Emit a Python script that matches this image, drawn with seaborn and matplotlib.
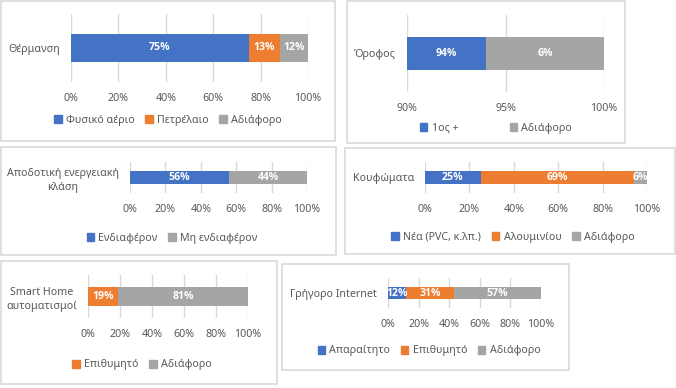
import matplotlib
matplotlib.use("Agg")
import matplotlib.pyplot as plt
from matplotlib.patches import Patch, Rectangle
import numpy as np
import seaborn as sns

# --- data -------------------------------------------------------------
heating_cat = "Θέρμανση"
heating_labels = ["Φυσικό αέριο", "Πετρέλαιο", "Αδιάφορο"]
heating_vals = [75, 13, 12]

floor_cat = "Όροφος"
floor_labels = ["1ος +", "Αδιάφορο"]
floor_vals = [94, 6]

energy_cat = "Αποδοτική ενεργειακή\nκλάση"
energy_labels = ["Ενδιαφέρον", "Μη ενδιαφέρον"]
energy_vals = [56, 44]

frames_cat = "Κουφώματα"
frames_labels = ["Νέα (PVC, κ.λπ.)", "Αλουμινίου", "Αδιάφορο"]
frames_vals = [25, 69, 6]

smart_cat = "Smart Home\nαυτοματισμοί"
smart_labels = ["Επιθυμητό", "Αδιάφορο"]
smart_vals = [19, 81]

net_cat = "Γρήγορο Internet"
net_labels = ["Απαραίτητο", "Επιθυμητό", "Αδιάφορο"]
net_vals = [12, 31, 57]

ticks_full = [0, 20, 40, 60, 80, 100]
ticks_floor = [90, 95, 100]

# --- style ------------------------------------------------------------
BLUE, ORANGE, GREY = "#4472C4", "#ED7D31", "#A5A5A5"
TEXT, GRID = "#595959", "#D9D9D9"
FS = 7.7

sns.set_theme(style="white")
plt.rcParams["font.family"] = ["Noto Sans", "DejaVu Sans"]

W, H = 676, 388
fig = plt.figure(figsize=(W / 100, H / 100), dpi=100)


def draw_panel(box, plot, cat, labels, vals, colors, xticks, legend_xy,
               colspace=1.0, width=0.42):
    x0, y0, x1, y1 = box
    fig.add_artist(Rectangle((x0 / W, 1 - y1 / H), (x1 - x0) / W, (y1 - y0) / H,
                             transform=fig.transFigure, fill=False,
                             ec=GRID, lw=1.2))
    l, t, r, b = plot
    ax = fig.add_axes([l / W, 1 - b / H, (r - l) / W, (b - t) / H])

    # stacked bar: draw cumulative totals, biggest first
    cums = np.cumsum(vals)
    for c, col in reversed(list(zip(cums, colors))):
        sns.barplot(x=[c], y=[cat], color=col, orient="h", width=width,
                    saturation=1, errorbar=None, linewidth=0, ax=ax)

    xmin, xmax = xticks[0], xticks[-1]
    ax.set_xlim(xmin, xmax)
    ax.set_ylim(0.5, -0.5)
    ax.set_xticks(xticks)
    ax.set_xticklabels([f"{v}%" for v in xticks])
    ax.grid(axis="x", color=GRID, lw=1.0)
    ax.grid(axis="y", visible=False)
    ax.set_axisbelow(True)
    for s in ax.spines.values():
        s.set_visible(False)
    ax.set_xlabel("")
    ax.set_ylabel("")
    ax.tick_params(length=0, labelsize=FS, labelcolor=TEXT)
    ax.tick_params(axis="x", pad=8)
    ax.tick_params(axis="y", pad=8)
    for tl in ax.get_yticklabels():
        tl.set_multialignment("center")
        tl.set_linespacing(1.35)

    for c, v in zip(cums, vals):
        left = max(c - v, xmin)
        ax.text((left + c) / 2, 0, f"{v}%", ha="center", va="center",
                color="white", fontsize=7.6, fontweight="bold",
                family=["Open Sans", "Noto Sans", "DejaVu Sans"])

    handles = [Patch(color=col) for col in colors]
    ax.legend(handles, labels, loc="center",
              bbox_to_anchor=(legend_xy[0] / W, 1 - legend_xy[1] / H),
              bbox_transform=fig.transFigure, ncol=len(labels), frameon=False,
              fontsize=FS, labelcolor=TEXT, handlelength=0.7, handleheight=0.7,
              handletextpad=0.4, columnspacing=colspace, borderpad=0)
    return ax


draw_panel((1, 1, 335, 141), (71, 14, 308, 82), heating_cat, heating_labels,
           heating_vals, [BLUE, ORANGE, GREY], ticks_full, (168, 120), width=0.4)
draw_panel((347, 1, 625, 143), (407, 15, 604, 92), floor_cat, floor_labels,
           floor_vals, [BLUE, GREY], ticks_floor, (496, 128), colspace=4.8)
draw_panel((1, 147, 336, 255), (130, 162, 307, 193), energy_cat, energy_labels,
           energy_vals, [BLUE, GREY], ticks_full, (172, 238))
draw_panel((345, 148, 675, 254), (425, 162, 647, 193), frames_cat, frames_labels,
           frames_vals, [BLUE, ORANGE, GREY], ticks_full, (513, 237))
draw_panel((1, 261, 277, 384), (88, 275, 248, 318), smart_cat, smart_labels,
           smart_vals, [ORANGE, GREY], ticks_full, (142, 365), width=0.44)
draw_panel((282, 264, 569, 370), (388, 278, 541, 308), net_cat, net_labels,
           net_vals, [BLUE, ORANGE, GREY], ticks_full, (429, 351), width=0.37)

fig.savefig("out.png", dpi=100)
